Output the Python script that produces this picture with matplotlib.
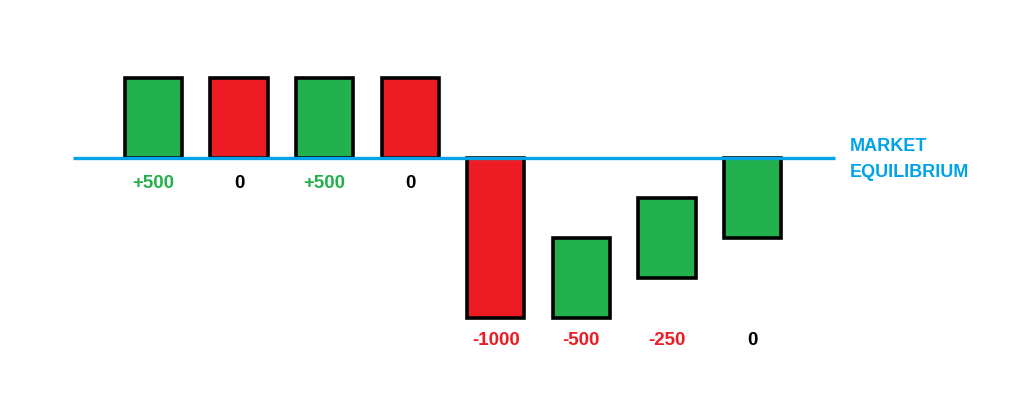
import matplotlib
matplotlib.use("Agg")
import matplotlib.pyplot as plt

# bar data (values relative to market equilibrium)
bar_bottom = [0, 0, 0, 0, -1000, -1000, -750, -500]
bar_top = [500, 500, 500, 500, 0, -500, -250, 0]
bar_colors = ["green", "red", "green", "red", "red", "green", "green", "green"]
labels = ["+500", "0", "+500", "0", "-1000", "-500", "-250", "0"]
label_colors = ["green", "black", "green", "black", "red", "red", "red", "black"]

palette = {"green": "#22b14c", "red": "#ed1c24", "black": "#000000"}
blue = "#00a2e8"

plt.rcParams["font.family"] = ["Liberation Sans", "DejaVu Sans"]

fig = plt.figure(figsize=(10.24, 4.04), dpi=100)
ax = fig.add_axes([0, 0, 1, 1])
ax.set_xlim(-1.794, 10.173)
ax.set_ylim(-1537.5, 987.5)
ax.axis("off")

x = list(range(len(bar_top)))
heights = [t - b for t, b in zip(bar_top, bar_bottom)]
ax.bar(x, heights, bottom=bar_bottom, width=0.67,
       color=[palette[c] for c in bar_colors],
       edgecolor="black", linewidth=2.6, zorder=2)

# equilibrium line drawn over the bars
ax.plot([-0.94, 7.96], [0, 0], color=blue, lw=2.4, zorder=3,
        solid_capstyle="butt")
ax.text(8.14, -10, "MARKET\nEQUILIBRIUM", color=blue, fontsize=13,
        fontweight="bold", ha="left", va="center", linespacing=1.65)

# value labels: under the line for bars above it, on a shared row below otherwise
low_row = min(bar_bottom) - 140
for xi, b, lab, col in zip(x, bar_bottom, labels, label_colors):
    y = -160 if b >= 0 else low_row
    ax.text(xi, y, lab, color=palette[col], fontsize=13.5, fontweight="bold",
            ha="center", va="center")

fig.savefig("out.png", dpi=100)
